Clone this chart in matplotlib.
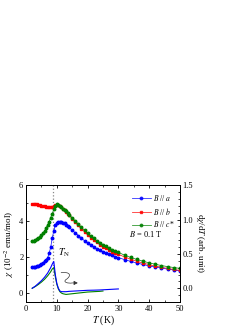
import numpy as np
import matplotlib
matplotlib.use("Agg")
import matplotlib.pyplot as plt
from matplotlib.path import Path
from matplotlib.patches import FancyArrowPatch

plt.rcParams['font.family'] = ['Liberation Serif', 'DejaVu Serif']
plt.rcParams['mathtext.fontset'] = 'stix'

# ---- data ----
T = [2, 2.5, 3, 3.5, 4, 4.5, 5, 5.5, 6, 6.5, 7, 7.5, 8, 8.5, 9, 9.5, 10, 10.5,
     11, 11.5, 12, 12.5, 13, 13.5, 14, 15, 16, 17, 18, 19, 20, 21, 22, 23, 24,
     25, 26, 27, 28, 29, 30, 32, 34, 36, 38, 40, 42, 44, 46, 48, 50]

chi_a = [1.45, 1.46, 1.47, 1.49, 1.52, 1.56, 1.61, 1.68, 1.77, 1.86, 1.97, 2.2, 2.55,
         3.05, 3.45, 3.78, 3.92, 3.96, 3.97, 3.96, 3.92, 3.87, 3.80, 3.73, 3.65, 3.50,
         3.35, 3.20, 3.05, 2.91, 2.78, 2.66, 2.55, 2.45, 2.37, 2.29, 2.22, 2.15, 2.09,
         2.03, 1.97, 1.86, 1.76, 1.67, 1.59, 1.51, 1.45, 1.39, 1.33, 1.28, 1.23]

chi_b = [4.97, 4.96, 4.95, 4.93, 4.91, 4.89, 4.87, 4.84, 4.82, 4.80, 4.78, 4.77, 4.77,
         4.80, 4.86, 4.91, 4.92, 4.90, 4.85, 4.78, 4.69, 4.60, 4.51, 4.42, 4.32, 4.14,
         3.95, 3.76, 3.57, 3.40, 3.24, 3.09, 2.95, 2.82, 2.69, 2.58, 2.48, 2.39, 2.30,
         2.22, 2.15, 2.01, 1.88, 1.77, 1.67, 1.58, 1.50, 1.43, 1.37, 1.31, 1.26]

chi_c = [2.90, 2.91, 2.94, 2.99, 3.05, 3.13, 3.22, 3.33, 3.46, 3.62, 3.80, 3.98, 4.20,
         4.42, 4.65, 4.85, 4.93, 4.90, 4.85, 4.78, 4.70, 4.62, 4.54, 4.45, 4.36, 4.19,
         4.01, 3.84, 3.66, 3.49, 3.33, 3.18, 3.05, 2.92, 2.80, 2.69, 2.59, 2.50, 2.41,
         2.33, 2.26, 2.11, 1.98, 1.87, 1.77, 1.68, 1.60, 1.53, 1.47, 1.42, 1.37]

T_da = [2, 3, 4, 5, 6, 7, 7.5, 8, 8.5, 9, 9.25, 9.5, 10, 10.5, 11, 11.5, 12, 13, 14,
        16, 18, 20, 22, 24, 26, 28, 30]
d_a = [0.0, 0.03, 0.07, 0.11, 0.16, 0.22, 0.26, 0.30, 0.35, 0.39, 0.30, 0.20, 0.07,
       0.0, -0.04, -0.05, -0.05, -0.05, -0.045, -0.04, -0.035, -0.03, -0.028, -0.025,
       -0.02, -0.015, -0.01]

T_dc = [2, 3, 4, 5, 6, 7, 7.5, 8, 8.5, 9, 9.25, 9.5, 10, 10.5, 11, 11.5, 12, 13, 14,
        16, 18, 20, 22, 24, 25]
d_c = [0.0, 0.025, 0.055, 0.09, 0.13, 0.18, 0.21, 0.24, 0.28, 0.30, 0.24, 0.17, 0.06,
       -0.01, -0.05, -0.07, -0.08, -0.09, -0.085, -0.075, -0.065, -0.055, -0.05,
       -0.045, -0.04]

T_N = 8.8

# ---- figure ----
fig = plt.figure(figsize=(2.53, 3.27), dpi=100)
ax = fig.add_axes([0.103, 0.0765, 0.608, 0.357])
ax2 = ax.twinx()

blue, red, green = '#0000ff', '#ff0000', '#008000'
ms = 1.8
ax.plot(T, chi_a, '-', color=blue, lw=0.5, marker='o', ms=ms, mec=blue, mfc=blue,
        label=r'$B$ // $a$')
ax.plot(T, chi_b, '-', color=red, lw=0.5, marker='s', ms=ms * 0.9, mec=red, mfc=red,
        label=r'$B$ // $b$')
ax.plot(T, chi_c, '-', color=green, lw=0.5, marker='o', ms=ms, mec=green, mfc=green,
        label=r'$B$ // $c$*')

ax2.plot(T_dc, d_c, '-', color=green, lw=0.8)
ax2.plot(T_da, d_a, '-', color=blue, lw=0.8)

ax.axvline(T_N, color='#888888', ls=':', lw=0.9, zorder=0)

ax.set_xlim(0, 50)
ax.set_ylim(-0.5, 6)
ax2.set_ylim(-0.2, 1.5)

ax.set_xticks([0, 10, 20, 30, 40, 50])
ax.set_xticks(np.arange(0, 51, 5), minor=True)
ax.set_yticks([0, 2, 4, 6])
ax.set_yticks([1, 3, 5], minor=True)
ax2.set_yticks([0.0, 0.5, 1.0, 1.5])
ax2.set_yticklabels(['0.0', '0.5', '1.0', '1.5'])
ax2.set_yticks(np.arange(-0.1, 1.51, 0.1), minor=True)

for a in (ax, ax2):
    a.tick_params(which='both', direction='in', labelsize=6, pad=2)
    a.tick_params(which='major', length=2.5, width=0.6)
    a.tick_params(which='minor', length=1.5, width=0.5)
    for s in a.spines.values():
        s.set_linewidth(0.7)
ax.tick_params(which='both', top=True)

ax.set_xlabel(r'$T$ (K)', fontsize=7, labelpad=0.5)
ax.set_ylabel(r'$\chi$ (10$^{-2}$ emu/mol)', fontsize=6.5, labelpad=2)
ax2.set_ylabel(r'd$\chi$/d$T$ (arb. unit)', fontsize=6.5, rotation=270, labelpad=9)

leg = ax.legend(loc='upper right', bbox_to_anchor=(1.0, 0.98), fontsize=5.5,
                frameon=False, handlelength=2.4, handletextpad=0.3,
                labelspacing=0.35, borderaxespad=0.3)
for h in leg.legend_handles:
    h.set_linewidth(0.6)
    h.set_alpha(0.8)

ax.text(39, 3.3, r'$B$ = 0.1 T', fontsize=6, ha='center', va='center')
ax.text(10.3, 2.25, r'$T_{\rm N}$', fontsize=7, ha='left', va='center')

verts = [(11.4, 1.13), (14.5, 1.2), (14.8, 0.95), (13.0, 0.75),
         (11.8, 0.6), (13.8, 0.52), (15.0, 0.56), (16.8, 0.56)]
codes = [Path.MOVETO, Path.CURVE4, Path.CURVE4, Path.CURVE4,
         Path.CURVE4, Path.CURVE4, Path.CURVE4, Path.LINETO]
arr = FancyArrowPatch(path=Path(verts, codes), arrowstyle='-|>,head_length=2.2,head_width=1.2',
                      color='#333333', lw=0.5)
ax.add_patch(arr)

fig.savefig('out.png', dpi=100)
